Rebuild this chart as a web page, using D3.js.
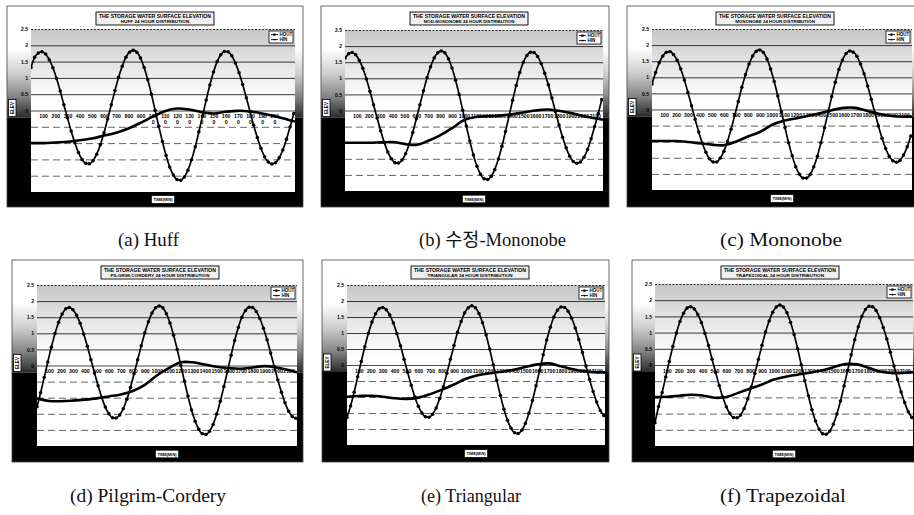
<!DOCTYPE html>
<html><head><meta charset="utf-8">
<script src="https://cdn.jsdelivr.net/npm/d3@7"></script>
<style>body{margin:0;background:#fff}svg{display:block}</style>
</head><body>
<svg id="c" width="914" height="515"></svg>
<script>
// ---------- DATA ----------
const houtTime = d3.range(0, 2161, 30);               // minutes, 30-min steps
const hinTime  = [0,100,200,300,400,500,600,700,800,900,1000,1100,1200,1300,1400,1500,1600,1700,1800,1900,2000,2100,2170];
const yTicks   = [-2.5,-2,-1.5,-1,-0.5,0,0.5,1,1.5,2,2.5];
const xTicksA  = [100,200,300,400,500,600,700,800,900,1000,1100,1200,1300,1400,1500,1600,1700,1800,1900,2000];
const xTicks   = [100,200,300,400,500,600,700,800,900,1000,1100,1200,1300,1400,1500,1600,1700,1800,1900,2000,2100];
const seriesNames = ["HOUT","HIN"];
const mainTitle = "THE STORAGE WATER SURFACE ELEVATION";
const subTitles = ["HUFF 24 HOUR DISTRIBUTION","MOD-MONONOBE 24 HOUR DISTRIBUTION","MONONOBE 24 HOUR DISTRIBUTION",
                   "PILGRIM-CORDERY 24 HOUR DISTRIBUTION","TRIANGULAR 24 HOUR DISTRIBUTION","TRAPEZOIDAL 24 HOUR DISTRIBUTION"];
const captions = ["(a) Huff","(b) 수정-Mononobe","(c) Mononobe","(d) Pilgrim-Cordery","(e) Triangular","(f) Trapezoidal"];

const houtA = [1.32,1.63,1.76,1.80,1.73,1.56,1.31,0.98,0.60,0.18,
 -0.23,-0.63,-0.99,-1.29,-1.50,-1.62,-1.63,-1.54,-1.34,-1.05,
 -0.68,-0.26,0.18,0.61,1.02,1.36,1.63,1.79,1.85,1.79,
 1.61,1.32,0.94,0.50,0.01,-0.48,-0.95,-1.38,-1.73,-1.98,
 -2.12,-2.14,-2.04,-1.83,-1.51,-1.11,-0.65,-0.17,0.32,0.78,
 1.18,1.50,1.71,1.81,1.80,1.68,1.46,1.16,0.80,0.39,
 -0.03,-0.45,-0.83,-1.16,-1.42,-1.58,-1.64,-1.60,-1.45,-1.21,
 -0.88,-0.50,-0.09];
const houtB = [1.63,1.76,1.80,1.73,1.56,1.31,0.98,0.60,0.18,-0.23,
 -0.63,-0.99,-1.29,-1.50,-1.62,-1.63,-1.54,-1.34,-1.05,-0.68,
 -0.26,0.18,0.61,1.02,1.36,1.63,1.79,1.85,1.79,1.61,
 1.32,0.94,0.50,0.01,-0.48,-0.95,-1.38,-1.73,-1.98,-2.12,
 -2.14,-2.04,-1.83,-1.51,-1.11,-0.65,-0.17,0.32,0.78,1.18,
 1.50,1.71,1.81,1.80,1.68,1.46,1.16,0.80,0.39,-0.03,
 -0.45,-0.83,-1.16,-1.42,-1.58,-1.64,-1.60,-1.45,-1.21,-0.88,
 -0.50,-0.09,0.34];
const houtC = [0.79,1.15,1.45,1.66,1.78,1.80,1.71,1.53,1.26,0.92,
 0.53,0.12,-0.30,-0.70,-1.05,-1.33,-1.53,-1.63,-1.63,-1.51,
 -1.30,-0.99,-0.61,-0.19,0.25,0.69,1.08,1.41,1.66,1.81,
 1.85,1.77,1.57,1.26,0.87,0.42,-0.07,-0.56,-1.03,-1.44,
 -1.78,-2.01,-2.13,-2.13,-2.02,-1.78,-1.45,-1.03,-0.57,-0.08,
 0.40,0.85,1.24,1.54,1.74,1.82,1.78,1.65,1.41,1.11,
 0.73,0.32,-0.10,-0.51,-0.89,-1.21,-1.45,-1.59,-1.64,-1.58,
 -1.41,-1.16,-0.82];
const houtD = [-1.28,-0.85,-0.37,0.11,0.57,0.99,1.34,1.60,1.76,1.80,
 1.73,1.56,1.31,0.98,0.60,0.18,-0.23,-0.63,-0.99,-1.29,
 -1.50,-1.62,-1.63,-1.54,-1.34,-1.05,-0.68,-0.26,0.18,0.61,
 1.02,1.36,1.63,1.79,1.85,1.79,1.61,1.32,0.94,0.50,
 0.01,-0.48,-0.95,-1.38,-1.73,-1.98,-2.12,-2.14,-2.04,-1.83,
 -1.51,-1.11,-0.65,-0.17,0.32,0.78,1.18,1.50,1.71,1.81,
 1.80,1.68,1.46,1.16,0.80,0.39,-0.03,-0.45,-0.83,-1.16,
 -1.42,-1.58,-1.64];
const houtE = [-1.64,-1.28,-0.85,-0.37,0.11,0.57,0.99,1.34,1.60,1.76,
 1.80,1.73,1.56,1.31,0.98,0.60,0.18,-0.23,-0.63,-0.99,
 -1.29,-1.50,-1.62,-1.63,-1.54,-1.34,-1.05,-0.68,-0.26,0.18,
 0.61,1.02,1.36,1.63,1.79,1.85,1.79,1.61,1.32,0.94,
 0.50,0.01,-0.48,-0.95,-1.38,-1.73,-1.98,-2.12,-2.14,-2.04,
 -1.83,-1.51,-1.11,-0.65,-0.17,0.32,0.78,1.18,1.50,1.71,
 1.81,1.80,1.68,1.46,1.16,0.80,0.39,-0.03,-0.45,-0.83,
 -1.16,-1.42,-1.58];
const houtF = [-1.78,-1.28,-0.85,-0.37,0.11,0.57,0.99,1.34,1.60,1.76,
 1.80,1.73,1.56,1.31,0.98,0.60,0.18,-0.23,-0.63,-0.99,
 -1.29,-1.50,-1.62,-1.63,-1.54,-1.34,-1.05,-0.68,-0.26,0.18,
 0.61,1.02,1.36,1.63,1.79,1.85,1.79,1.61,1.32,0.94,
 0.50,0.01,-0.48,-0.95,-1.38,-1.73,-1.98,-2.12,-2.14,-2.04,
 -1.83,-1.51,-1.11,-0.65,-0.17,0.32,0.78,1.18,1.50,1.71,
 1.81,1.80,1.68,1.46,1.16,0.80,0.39,-0.03,-0.45,-0.83,
 -1.16,-1.44,-1.62];

const hinA = [-1.00,-1.00,-0.98,-0.96,-0.91,-0.86,-0.77,-0.68,-0.55,-0.38,-0.19,-0.02,0.06,0.03,-0.05,-0.09,-0.04,-0.01,-0.03,-0.09,-0.17,-0.27,-0.34];
const hinB = [-1.00,-1.00,-1.00,-0.99,-0.98,-1.04,-1.07,-0.94,-0.77,-0.55,-0.30,-0.20,-0.18,-0.16,-0.12,-0.06,0.00,0.03,-0.01,-0.08,-0.17,-0.24,-0.29];
const hinC = [-0.98,-0.98,-0.98,-1.01,-1.05,-1.09,-1.11,-1.00,-0.84,-0.70,-0.48,-0.35,-0.28,-0.20,-0.12,-0.02,0.05,0.05,-0.05,-0.14,-0.20,-0.22,-0.22];
const hinD = [-1.02,-1.10,-1.11,-1.09,-1.06,-1.02,-0.96,-0.90,-0.79,-0.60,-0.31,-0.08,0.10,0.10,0.03,-0.04,-0.08,-0.10,-0.06,-0.02,-0.06,-0.14,-0.21];
const hinE = [-0.99,-0.97,-0.96,-0.99,-1.04,-1.06,-1.02,-0.91,-0.77,-0.61,-0.43,-0.32,-0.26,-0.21,-0.15,-0.06,0.02,0.05,-0.04,-0.13,-0.20,-0.23,-0.23];
const hinF = [-0.99,-0.98,-0.95,-0.92,-0.94,-1.01,-0.99,-0.86,-0.73,-0.60,-0.45,-0.36,-0.30,-0.24,-0.17,-0.07,0.03,0.02,-0.09,-0.21,-0.25,-0.24,-0.22];

// ---------- LAYOUT ----------
const panels = [
  {frame:[7,6,296,201],   plot:[31,29,264,163],  hout:houtA, hin:hinA, ticks:xTicksA, wrap:true,  cap:[118,246,61]},
  {frame:[321,6,288,201], plot:[345,30,258,161], hout:houtB, hin:hinB, ticks:xTicks,  wrap:false, cap:[419,246,147]},
  {frame:[627,6,300,201], plot:[652,29,260,161], hout:houtC, hin:hinC, ticks:xTicks,  wrap:false, cap:[720,246,122]},
  {frame:[12,260,291,202],plot:[37,285,260,161], hout:houtD, hin:hinD, ticks:xTicks,  wrap:false, cap:[70,502,156]},
  {frame:[322,260,287,202],plot:[347,285,258,160],hout:houtE, hin:hinE, ticks:xTicks, wrap:false, cap:[421,502,100]},
  {frame:[632,260,290,202],plot:[655,284,258,162],hout:houtF, hin:hinF, ticks:xTicks, wrap:false, cap:[720,502,126]}
];
const FONT = "'Liberation Sans', Arial, sans-serif";

const svg = d3.select('#c');
const defs = svg.append('defs');
function grad(id, y1, y2, stops){
  const g = defs.append('linearGradient').attr('id',id).attr('gradientUnits','userSpaceOnUse')
    .attr('x1',0).attr('y1',y1).attr('x2',0).attr('y2',y2);
  stops.forEach(([o,c])=>g.append('stop').attr('offset',o).attr('stop-color',c));
}

panels.forEach((p,i)=>{
  const [fx,fy,fw,fh] = p.frame, [px,py,pw,ph] = p.plot;
  const x = d3.scaleLinear().domain([0,2170]).range([px,px+pw]);
  const y = d3.scaleLinear().domain([-2.5,2.5]).range([py+ph,py]);
  const g = svg.append('g');
  const bandEnd = y(0)+7;
  grad('band'+i, fy, bandEnd, [[0,'#ffffff'],[0.38,'#ffffff'],[0.6,'#cfcfcf'],[0.8,'#8a8a8a'],[1,'#2a2a2a']]);
  grad('plot'+i, py, py+ph, [[0,'#c6c6c6'],[0.18,'#e0e0e0'],[0.38,'#f8f8f8'],[0.46,'#ffffff'],[1,'#ffffff']]);
  const clipId = 'clip'+i;
  defs.append('clipPath').attr('id',clipId).append('rect').attr('x',px).attr('y',py-2).attr('width',pw).attr('height',ph+4);

  // chart area: white top, shaded side bands, black lower sides and bottom band
  const rw = Math.max(0, fx+fw-px-pw);
  g.append('rect').attr('x',fx).attr('y',fy).attr('width',fw).attr('height',fh).attr('fill','#fff');
  g.append('rect').attr('x',fx).attr('y',fy).attr('width',px-fx).attr('height',bandEnd-fy).style('fill',`url(#band${i})`);
  g.append('rect').attr('x',px+pw).attr('y',fy).attr('width',rw).attr('height',bandEnd-fy).style('fill',`url(#band${i})`);
  g.append('rect').attr('x',fx).attr('y',bandEnd).attr('width',px-fx).attr('height',fy+fh-bandEnd).style('fill','#000');
  g.append('rect').attr('x',px+pw).attr('y',bandEnd).attr('width',rw).attr('height',fy+fh-bandEnd).style('fill','#000');
  g.append('rect').attr('x',fx).attr('y',py+ph).attr('width',fw).attr('height',fy+fh-py-ph).style('fill','#000');
  g.append('rect').attr('x',fx).attr('y',fy).attr('width',fw).attr('height',fh)
    .attr('fill','none').attr('stroke','#444').attr('stroke-width',0.8);
  g.append('rect').attr('x',px).attr('y',py).attr('width',pw).attr('height',ph).style('fill',`url(#plot${i})`);

  // gridlines
  const grid = g.append('g').attr('transform',`translate(${px},0)`)
    .call(d3.axisLeft(y).tickValues(yTicks).tickSize(-pw).tickFormat(''));
  grid.select('.domain').remove();
  grid.selectAll('.tick line')
    .attr('stroke', d => d>0 ? '#222' : (d===0 ? '#333' : '#555'))
    .attr('stroke-width', d => d===-2.5 ? 0 : 0.9)
    .attr('stroke-dasharray', d => d<0 ? '7,4' : (d===2.5 ? '2,1.5' : null));

  // y labels
  const ya = g.append('g').attr('transform',`translate(${px},0)`)
    .call(d3.axisLeft(y).tickValues(yTicks).tickSize(0).tickPadding(3).tickFormat(d=>String(d)));
  ya.select('.domain').remove();
  ya.selectAll('text').attr('font-family',FONT).attr('font-size',5).attr('font-weight','bold').attr('fill','#000');

  // x labels on zero line
  const xa = g.append('g').attr('transform',`translate(0,${y(0)})`)
    .call(d3.axisBottom(x).tickValues(p.ticks).tickSize(0).tickPadding(4).tickFormat(d=>String(d)));
  xa.select('.domain').remove();
  xa.selectAll('text').attr('font-family',FONT).attr('font-size',5.2).attr('font-weight','bold').attr('fill','#000');
  if(p.wrap){
    xa.selectAll('text').each(function(d){
      if(d>=1000){
        const t = d3.select(this), s = String(d);
        t.text(null);
        t.append('tspan').attr('x',0).text(s.slice(0,3));
        t.append('tspan').attr('x',0).attr('dy','1.2em').text(s.slice(3));
      }
    });
  }

  const plotG = g.append('g').attr('clip-path',`url(#${clipId})`);
  // HOUT
  const houtPts = houtTime.map((t,k)=>[t,p.hout[k]]);
  plotG.append('path').datum(houtPts)
    .attr('d', d3.line().x(d=>x(d[0])).y(d=>y(d[1])).curve(d3.curveMonotoneX))
    .attr('fill','none').attr('stroke','#000').attr('stroke-width',1.7);
  plotG.selectAll('circle.hout').data(houtPts).join('circle').attr('class','hout')
    .attr('cx',d=>x(d[0])).attr('cy',d=>y(d[1])).attr('r',1.75).attr('fill','#000');
  // HIN
  const hinPts = hinTime.map((t,k)=>[t,p.hin[k]]);
  plotG.append('path').datum(hinPts)
    .attr('d', d3.line().x(d=>x(d[0])).y(d=>y(d[1])).curve(d3.curveCatmullRom))
    .attr('fill','none').attr('stroke','#000').attr('stroke-width',2.6);

  // title box
  const tw = 118, th = 13, tcx = fx + 148, ty = fy + 6;
  g.append('rect').attr('x',tcx-tw/2).attr('y',ty).attr('width',tw).attr('height',th)
    .attr('fill','#efefef').attr('stroke','#000').attr('stroke-width',0.9);
  g.append('text').attr('x',tcx).attr('y',ty+5.6).attr('text-anchor','middle')
    .attr('font-family',FONT).attr('font-size',5.6).attr('font-weight','bold')
    .attr('textLength',tw-6).attr('lengthAdjust','spacingAndGlyphs').text(mainTitle);
  g.append('text').attr('x',tcx).attr('y',ty+11).attr('text-anchor','middle')
    .attr('font-family',FONT).attr('font-size',4.4).attr('font-weight','bold')
    .attr('textLength',subTitles[i].length*2.75).attr('lengthAdjust','spacingAndGlyphs').text(subTitles[i]);

  // legend
  const lx = px+pw-26, ly = py+2;
  g.append('rect').attr('x',lx).attr('y',ly).attr('width',24).attr('height',12)
    .attr('fill','#fff').attr('stroke','#000').attr('stroke-width',0.8);
  seriesNames.forEach((nm,k)=>{
    const yy = ly+3.6+k*5;
    g.append('line').attr('x1',lx+2).attr('x2',lx+9).attr('y1',yy).attr('y2',yy).attr('stroke','#000').attr('stroke-width',0.9);
    if(k===0) g.append('rect').attr('x',lx+4.3).attr('y',yy-1.1).attr('width',2.2).attr('height',2.2).attr('fill','#000');
    else g.append('circle').attr('cx',lx+5.5).attr('cy',yy).attr('r',0.9).attr('fill','#000');
    g.append('text').attr('x',lx+10.5).attr('y',yy+1.6).attr('font-family',FONT).attr('font-size',4.5)
      .attr('font-weight','bold').text(nm);
  });

  // y-axis title box
  const ex = fx+1.5, ey = y(0)-11;
  g.append('rect').attr('x',ex).attr('y',ey).attr('width',7.5).attr('height',17)
    .attr('fill','#fff').attr('stroke','#000').attr('stroke-width',0.8);
  g.append('text').attr('transform',`translate(${ex+5.4},${ey+8.5}) rotate(-90)`).attr('text-anchor','middle')
    .attr('font-family',FONT).attr('font-size',4.6).attr('font-weight','bold')
    .attr('textLength',12).attr('lengthAdjust','spacingAndGlyphs').text('ELEV');

  // x-axis title box
  const bcx = px+pw/2, bcy = (py+ph+fy+fh)/2;
  g.append('rect').attr('x',bcx-11.5).attr('y',bcy-3.8).attr('width',23).attr('height',7.6)
    .attr('fill','#fff').attr('stroke','#000').attr('stroke-width',0.6);
  g.append('text').attr('x',bcx).attr('y',bcy+1.6).attr('text-anchor','middle')
    .attr('font-family',FONT).attr('font-size',4.4).attr('font-weight','bold')
    .attr('textLength',19).attr('lengthAdjust','spacingAndGlyphs').text('TIME(MIN)');

  // caption
  svg.append('text').attr('x',p.cap[0]).attr('y',p.cap[1])
    .attr('font-family',"'Liberation Serif','DejaVu Serif','Noto Sans CJK KR',serif").attr('font-size',18)
    .attr('fill','#111').attr('textLength',p.cap[2]).attr('lengthAdjust','spacingAndGlyphs').text(captions[i]);
});
</script>
</body></html>
